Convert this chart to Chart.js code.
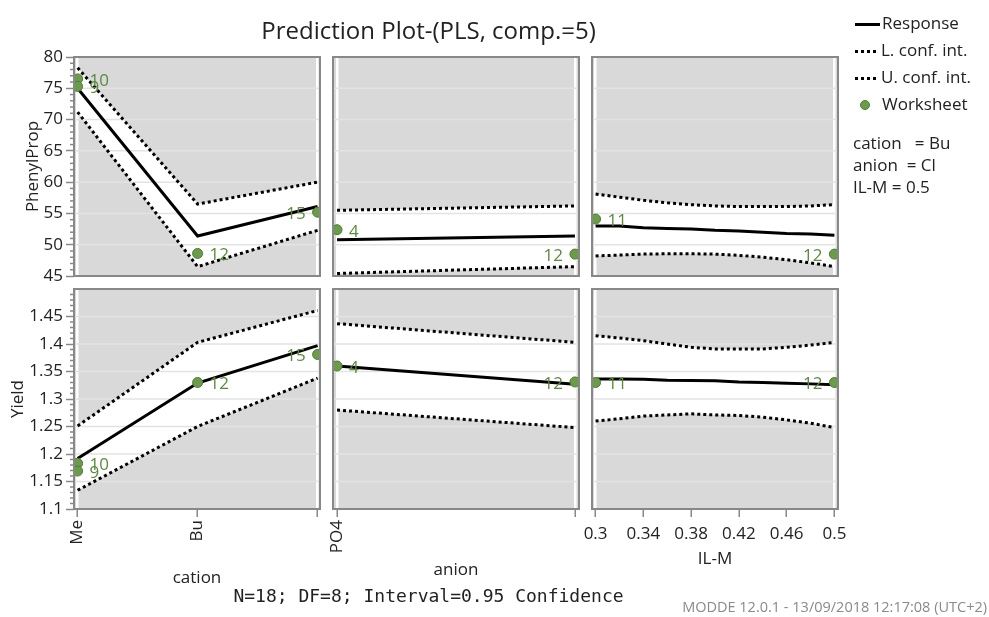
<!DOCTYPE html>
<html>
<head>
<meta charset="utf-8">
<script src="https://cdn.jsdelivr.net/npm/chart.js@4.4.0/dist/chart.umd.min.js"></script>
<style>
  body { margin: 0; width: 989px; height: 617px; background: #fff; position: relative; overflow: hidden; font-family: 'Open Sans', sans-serif; color: #222; }
  canvas { position: absolute; }
  .txt { position: absolute; white-space: pre; line-height: 20px; z-index: 2; }
  #title { left: 0; width: 857px; top: 16px; line-height: 28px; text-align: center; font-size: 24px; }
  #footer { left: 0; width: 857px; top: 585px; line-height: 22px; text-align: center; font-family: 'DejaVu Sans Mono', monospace; font-size: 18px; }
  #stamp { right: 2px; top: 598px; line-height: 18px; font-size: 14.5px; color: #8a8a8a; }
  .leg { position: absolute; left: 855px; font-size: 17px; line-height: 20px; white-space: pre; z-index: 2; }
  .solid { display: inline-block; width: 25px; height: 3px; background: #000; vertical-align: middle; margin-right: 2px; }
  .dots { display: inline-block; width: 24px; height: 3px; vertical-align: middle; margin-right: 2px;
          background: repeating-linear-gradient(90deg, #000 0 3px, transparent 3px 6px); }
  .dot { display: inline-block; width: 10px; height: 10px; border-radius: 50%; background: #6a9c4a; border: 1px solid #4f7d34;
         vertical-align: middle; margin: 0 12px 0 5px; box-sizing: border-box; }
</style>
</head>
<body>
<div id="title" class="txt">Prediction Plot-(PLS, comp.=5)</div>

<canvas id="ppCation" width="326" height="246" style="left:0;top:40px"></canvas>
<canvas id="ppAnion" width="262" height="246" style="left:323px;top:40px"></canvas>
<canvas id="ppIlm" width="268" height="246" style="left:582px;top:40px"></canvas>
<canvas id="yCation" width="326" height="328" style="left:0;top:272px"></canvas>
<canvas id="yAnion" width="262" height="328" style="left:323px;top:272px"></canvas>
<canvas id="yIlm" width="268" height="328" style="left:582px;top:272px"></canvas>

<div class="leg" style="top:13px"><span class="solid"></span>Response</div>
<div class="leg" style="top:40px"><span class="dots"></span>L. conf. int.</div>
<div class="leg" style="top:67px"><span class="dots"></span>U. conf. int.</div>
<div class="leg" style="top:94px"><span class="dot"></span>Worksheet</div>
<div class="leg" style="left:853px;top:133px">cation   = Bu</div>
<div class="leg" style="left:853px;top:155px">anion  = Cl</div>
<div class="leg" style="left:853px;top:177px">IL-M = 0.5</div>

<div id="footer" class="txt">N=18; DF=8; Interval=0.95 Confidence</div>
<div id="stamp" class="txt">MODDE 12.0.1 - 13/09/2018 12:17:08 (UTC+2)</div>

<script>
// factor levels / axes
const CATION_X = [0, 1, 2];
const CATION_LABELS = ['Me', 'Bu', ''];
const ANION_X = [0, 1];
const ANION_LABELS = ['PO4', ''];
const ILM_X = [0.3, 0.32, 0.34, 0.36, 0.38, 0.4, 0.42, 0.44, 0.46, 0.48, 0.5];
const ILM_TICKS = [0.3, 0.34, 0.38, 0.42, 0.46, 0.5];

const PP_TICKS = [45, 50, 55, 60, 65, 70, 75, 80];
const YIELD_TICKS = [1.1, 1.15, 1.2, 1.25, 1.3, 1.35, 1.4, 1.45];

// PhenylProp
const PP_CATION_RESP = [75.0, 51.4, 56.1];
const PP_CATION_LOW = [71.2, 46.5, 52.3];
const PP_CATION_UP = [78.3, 56.5, 60.0];
const PP_CATION_WS_X = [0, 0, 1, 2];
const PP_CATION_WS_Y = [76.5, 75.3, 48.6, 55.2];
const PP_CATION_WS_ID = ['10', '9', '12', '15'];

const PP_ANION_RESP = [50.8, 51.4];
const PP_ANION_LOW = [45.4, 46.5];
const PP_ANION_UP = [55.5, 56.2];
const PP_ANION_WS_X = [0, 1];
const PP_ANION_WS_Y = [52.4, 48.5];
const PP_ANION_WS_ID = ['4', '12'];

const PP_ILM_RESP = [53.0, 53.0, 52.7, 52.6, 52.5, 52.3, 52.2, 52.0, 51.8, 51.7, 51.5];
const PP_ILM_LOW = [48.2, 48.35, 48.5, 48.55, 48.55, 48.5, 48.3, 48.0, 47.6, 47.1, 46.5];
const PP_ILM_UP = [58.1, 57.6, 57.1, 56.7, 56.4, 56.2, 56.1, 56.1, 56.1, 56.2, 56.4];
const PP_ILM_WS_X = [0.3, 0.5];
const PP_ILM_WS_Y = [54.1, 48.5];
const PP_ILM_WS_ID = ['11', '12'];

// Yield
const Y_CATION_RESP = [1.192, 1.329, 1.397];
const Y_CATION_LOW = [1.134, 1.250, 1.338];
const Y_CATION_UP = [1.251, 1.403, 1.461];
const Y_CATION_WS_X = [0, 0, 1, 2];
const Y_CATION_WS_Y = [1.183, 1.169, 1.330, 1.381];
const Y_CATION_WS_ID = ['10', '9', '12', '15'];

const Y_ANION_RESP = [1.360, 1.327];
const Y_ANION_LOW = [1.280, 1.248];
const Y_ANION_UP = [1.437, 1.403];
const Y_ANION_WS_X = [0, 1];
const Y_ANION_WS_Y = [1.360, 1.331];
const Y_ANION_WS_ID = ['4', '12'];

const Y_ILM_RESP = [1.3365, 1.3365, 1.336, 1.334, 1.3335, 1.333, 1.331, 1.330, 1.3285, 1.3275, 1.326];
const Y_ILM_LOW = [1.260, 1.264, 1.269, 1.271, 1.273, 1.271, 1.270, 1.267, 1.262, 1.256, 1.248];
const Y_ILM_UP = [1.415, 1.411, 1.406, 1.400, 1.394, 1.391, 1.391, 1.391, 1.394, 1.398, 1.403];
const Y_ILM_WS_X = [0.3, 0.5];
const Y_ILM_WS_Y = [1.330, 1.330];
const Y_ILM_WS_ID = ['11', '12'];

const PANEL_BG = '#d9d9d9';
const GRID = '#e3e3e3';
const FRAME = '#888888';
const TEXT = '#222222';
const GREEN = '#6a9c4a';
const GREEN_DARK = '#4f7d34';
const LABEL_GREEN = '#5a8a3c';

Chart.defaults.font.family = "'Open Sans', sans-serif";

function pts(xs, ys) { return ys.map((y, i) => ({ x: xs[i], y: y })); }

// grey panel, grid over the white band, frame, minor ticks, point ids
const panelPlugin = {
  id: 'panel',
  beforeDraw(chart) {
    const { ctx, chartArea: a } = chart;
    ctx.save();
    ctx.fillStyle = PANEL_BG;
    ctx.fillRect(a.left, a.top, a.width, a.height);
    ctx.restore();
  },
  beforeDatasetsDraw(chart) {
    const { ctx, chartArea: a } = chart;
    const y = chart.scales.y;
    ctx.save();
    ctx.strokeStyle = GRID;
    ctx.lineWidth = 1.5;
    y.ticks.forEach(t => {
      const py = y.getPixelForValue(t.value);
      if (py > a.top + 2 && py < a.bottom - 2) {
        ctx.beginPath(); ctx.moveTo(a.left, py); ctx.lineTo(a.right, py); ctx.stroke();
      }
    });
    ctx.restore();
  },
  afterDatasetsDraw(chart) {
    const { ctx, chartArea: a } = chart;
    const p = chart.options.plugins.panel;
    ctx.save();
    ctx.strokeStyle = FRAME;
    ctx.lineWidth = 2;
    ctx.strokeRect(a.left, a.top, a.width, a.height);
    if (p.minorStep) {
      const y = chart.scales.y;
      const n = Math.round((y.max - y.min) / p.minorStep);
      ctx.lineWidth = 1.5;
      for (let i = 0; i <= n; i++) {
        if (i % 5 === 0) continue;
        const py = y.getPixelForValue(y.min + i * p.minorStep);
        ctx.beginPath(); ctx.moveTo(a.left - 4, py); ctx.lineTo(a.left, py); ctx.stroke();
      }
    }
    // worksheet ids
    const ds = chart.data.datasets[3];
    const meta = chart.getDatasetMeta(3);
    ctx.fillStyle = LABEL_GREEN;
    ctx.font = "17px 'Open Sans', sans-serif";
    ctx.textBaseline = 'middle';
    meta.data.forEach((el, i) => {
      const left = el.x > a.right - 30;
      ctx.textAlign = left ? 'right' : 'left';
      ctx.fillText(ds.ids[i], el.x + (left ? -12 : 12), el.y + 2);
    });
    ctx.restore();
  }
};

function makePanel(id, p) {
  const dotted = { borderColor: '#000', borderWidth: 3, borderDash: [3, 3], pointRadius: 0, order: 2, clip: 0 };
  new Chart(document.getElementById(id), {
    type: 'line',
    data: {
      datasets: [
        { label: 'Response', data: pts(p.x, p.resp), borderColor: '#000', borderWidth: 3, pointRadius: 0, order: 1, clip: 0 },
        Object.assign({ label: 'L. conf. int.', data: pts(p.x, p.low) }, dotted),
        Object.assign({ label: 'U. conf. int.', data: pts(p.x, p.up), fill: { target: 1 }, backgroundColor: '#fff' }, dotted),
        { label: 'Worksheet', data: pts(p.wsX, p.wsY), ids: p.wsId, showLine: false, pointRadius: 5,
          pointBackgroundColor: GREEN, pointBorderColor: GREEN_DARK, pointBorderWidth: 1, order: 0, clip: 0 }
      ]
    },
    options: {
      responsive: false,
      animation: false,
      events: [],
      layout: { padding: { left: 0, right: p.padRight, top: p.padTop, bottom: p.padBottom } },
      plugins: {
        legend: { display: false },
        tooltip: { enabled: false },
        filler: { drawTime: 'beforeDatasetsDraw' },
        panel: { minorStep: p.minorStep }
      },
      scales: {
        x: {
          type: 'linear', min: p.xMin, max: p.xMax,
          afterBuildTicks: s => { s.ticks = p.xTicks.map(v => ({ value: v })); },
          afterFit: s => { s.height = p.xHeight; s.paddingLeft = 0; s.paddingRight = 0; },
          border: { display: false },
          grid: {
            color: c => (c.index === 0 || c.index === p.xTicks.length - 1) ? '#ffffff' : 'rgba(0,0,0,0)',
            lineWidth: 2.5, drawTicks: p.showX, tickLength: 8, tickColor: FRAME, tickWidth: 1.5
          },
          ticks: {
            display: p.showX, autoSkip: false, minRotation: p.rot, maxRotation: p.rot, padding: p.xPad,
            color: TEXT, font: { size: 17 },
            callback: (v, i) => p.xLabels ? p.xLabels[i] : String(v)
          },
          title: { display: !!p.xTitle, text: p.xTitle, color: TEXT, font: { size: 17 }, padding: { top: 0, bottom: p.xTitlePad } }
        },
        y: {
          min: p.yMin, max: p.yMax,
          afterBuildTicks: s => { s.ticks = p.yTicks.map(v => ({ value: v })); },
          afterFit: s => { s.width = p.yWidth; s.paddingTop = 0; s.paddingBottom = 0; },
          border: { display: false },
          grid: { color: 'rgba(0,0,0,0)', drawTicks: p.showY, tickLength: 8, tickColor: FRAME, tickWidth: 1.5 },
          ticks: { display: p.showY, padding: 3, color: TEXT, font: { size: 17 }, callback: v => String(v) },
          title: { display: !!p.yTitle, text: p.yTitle, color: TEXT, font: { size: 17 }, padding: { top: p.yTitlePad, bottom: 0 } }
        }
      }
    },
    plugins: [panelPlugin]
  });
}

const TOP = { padTop: 17, padBottom: 10, xHeight: 0, showX: false, rot: 0, xPad: 0, yMin: 45, yMax: 80, yTicks: PP_TICKS };
const BOTTOM = { padTop: 17, padBottom: 0, xHeight: 91, showX: true, yMin: 1.1, yMax: 1.5, yTicks: YIELD_TICKS };
const COL_CATION = { yWidth: 74, padRight: 6, showY: true, x: CATION_X, xMin: -0.03, xMax: 2.02, xTicks: CATION_X, xLabels: CATION_LABELS };
const COL_ANION = { yWidth: 10, padRight: 6, showY: false, x: ANION_X, xMin: -0.017, xMax: 1.017, xTicks: ANION_X, xLabels: ANION_LABELS };
const COL_ILM = { yWidth: 10, padRight: 12, showY: false, x: ILM_X, xMin: 0.297, xMax: 0.503, xTicks: ILM_TICKS, xLabels: null };

makePanel('ppCation', Object.assign({}, TOP, COL_CATION, {
  resp: PP_CATION_RESP, low: PP_CATION_LOW, up: PP_CATION_UP,
  wsX: PP_CATION_WS_X, wsY: PP_CATION_WS_Y, wsId: PP_CATION_WS_ID,
  yTitle: 'PhenylProp', yTitlePad: 23, minorStep: 1
}));
makePanel('ppAnion', Object.assign({}, TOP, COL_ANION, {
  resp: PP_ANION_RESP, low: PP_ANION_LOW, up: PP_ANION_UP,
  wsX: PP_ANION_WS_X, wsY: PP_ANION_WS_Y, wsId: PP_ANION_WS_ID
}));
makePanel('ppIlm', Object.assign({}, TOP, COL_ILM, {
  resp: PP_ILM_RESP, low: PP_ILM_LOW, up: PP_ILM_UP,
  wsX: PP_ILM_WS_X, wsY: PP_ILM_WS_Y, wsId: PP_ILM_WS_ID
}));
makePanel('yCation', Object.assign({}, BOTTOM, COL_CATION, {
  resp: Y_CATION_RESP, low: Y_CATION_LOW, up: Y_CATION_UP,
  wsX: Y_CATION_WS_X, wsY: Y_CATION_WS_Y, wsId: Y_CATION_WS_ID,
  yTitle: 'Yield', yTitlePad: 8, minorStep: 0.01,
  rot: 90, xPad: 3, xTitle: 'cation', xTitlePad: 12
}));
makePanel('yAnion', Object.assign({}, BOTTOM, COL_ANION, {
  resp: Y_ANION_RESP, low: Y_ANION_LOW, up: Y_ANION_UP,
  wsX: Y_ANION_WS_X, wsY: Y_ANION_WS_Y, wsId: Y_ANION_WS_ID,
  rot: 90, xPad: 3, xTitle: 'anion', xTitlePad: 20
}));
makePanel('yIlm', Object.assign({}, BOTTOM, COL_ILM, {
  resp: Y_ILM_RESP, low: Y_ILM_LOW, up: Y_ILM_UP,
  wsX: Y_ILM_WS_X, wsY: Y_ILM_WS_Y, wsId: Y_ILM_WS_ID,
  rot: 0, xPad: 7, xTitle: 'IL-M', xTitlePad: 31
}));
</script>
</body>
</html>
